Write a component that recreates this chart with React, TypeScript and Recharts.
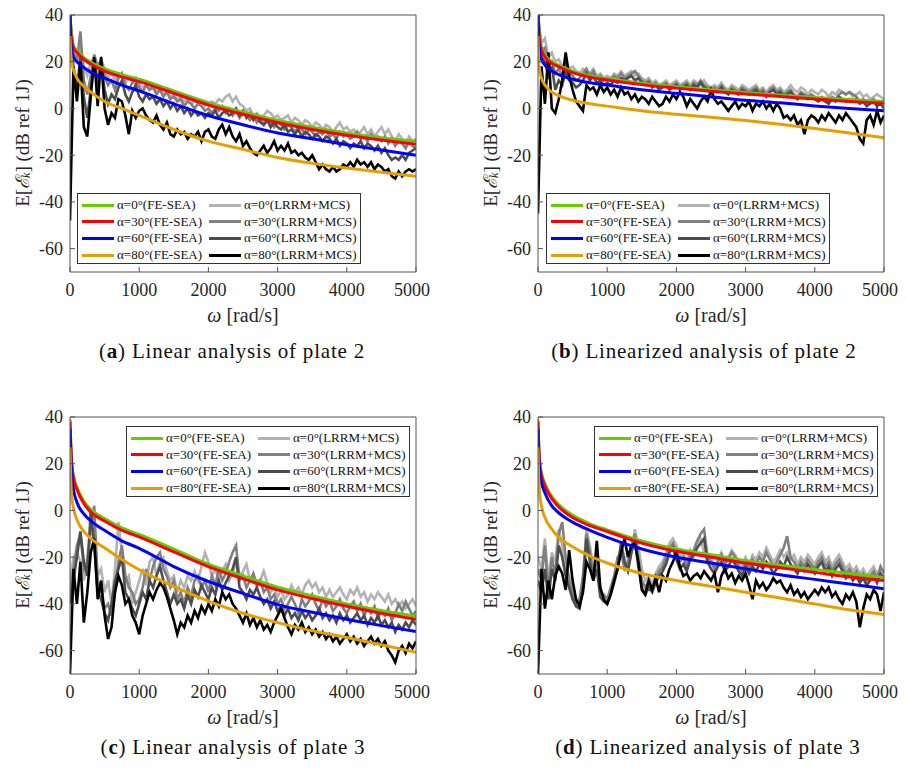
import { Line, LineChart, XAxis, YAxis } from "recharts";

const FONT = "'Liberation Serif', 'Times New Roman', serif";
const TXT = "#262626";
const FRAME = "#555555";

// x grids
const feX = [0, 10, 25, 50, 100, 200, 300, 500, 750, 1000, 1500, 2000, 2500, 3000, 3500, 4000, 4500, 5000];
const mcsX = [
  0, 50, 100, 150, 200, 250, 300, 350, 400, 450, 500,
  550, 600, 650, 700, 750, 800, 850, 900, 950, 1000,
  1050, 1100, 1150, 1200, 1250, 1300, 1350, 1400, 1450, 1500,
  1550, 1600, 1650, 1700, 1750, 1800, 1850, 1900, 1950, 2000,
  2050, 2100, 2150, 2200, 2250, 2300, 2350, 2400, 2450, 2500,
  2550, 2600, 2650, 2700, 2750, 2800, 2850, 2900, 2950, 3000,
  3050, 3100, 3150, 3200, 3250, 3300, 3350, 3400, 3450, 3500,
  3550, 3600, 3650, 3700, 3750, 3800, 3850, 3900, 3950, 4000,
  4050, 4100, 4150, 4200, 4250, 4300, 4350, 4400, 4450, 4500,
  4550, 4600, 4650, 4700, 4750, 4800, 4850, 4900, 4950, 5000,
];
const xTicks = [0, 1000, 2000, 3000, 4000, 5000];
const yTicks = [-60, -40, -20, 0, 20, 40];

// (a) linear, plate 2
const aFe0 = [42, 35, 30, 27, 24.8, 21.8, 19.8, 17, 14.5, 12.5, 7.5, 2.5, -1.5, -5, -8, -10.5, -12.5, -14];
const aFe30 = [42, 33, 29, 26, 24, 21, 19, 16, 13.5, 11.5, 6.5, 1.5, -2.5, -6, -9, -11.5, -13.5, -15.3];
const aFe60 = [42, 30, 25, 22, 20, 17.5, 15.5, 13, 10, 7.5, 2, -3, -7, -10.5, -13, -15.5, -17.8, -20];
const aFe80 = [31, 24, 19.5, 16.5, 13, 9.5, 7, 3, 0, -3, -9, -14, -17.5, -21, -23.5, -25.5, -27.3, -29];
const aMcs0 = [
  38, 26, 21, 27, 18, 14, 20, 22, 16, 21, 17,
  13, 15, 12, 15, 14, 11, 13, 12, 10, 11,
  9, 10, 8, 10, 7, 8, 6, 7, 5, 6,
  4, 5, 3, 4, 2, 3, 2, 3, 1, 2,
  3, 2, 4, 3, 5, 6, 3, 5, 2, 1,
  -1, 0, -3, -2, -4, -3, -1, -2, -4, -3,
  -5, -4, -3, -6, -4, -5, -7, -5, -6, -8,
  -6, -7, -9, -7, -8, -10, -8, -6, -9, -8,
  -10, -9, -11, -10, -8, -11, -9, -12, -10, -8,
  -11, -9, -12, -14, -11, -13, -15, -12, -14, -13,
];
const aMcs30 = [
  40, 24, 20, 33, 12, 6, 14, 23, 18, 21, 14,
  10, 12, 8, 13, 15, 10, 8, 11, 13, 9,
  7, 10, 8, 9, 6, 8, 5, 7, 4, 5,
  3, 4, 1, 3, 2, 0, 2, 1, -1, 0,
  -2, 0, -1, 1, -2, 0, -3, -1, -4, -2,
  -3, -5, -3, -6, -4, -7, -5, -6, -8, -6,
  -7, -9, -7, -8, -10, -8, -9, -11, -9, -10,
  -12, -10, -11, -9, -12, -11, -13, -10, -12, -11,
  -13, -12, -10, -13, -12, -14, -11, -13, -12, -14,
  -12, -15, -13, -16, -14, -15, -17, -14, -16, -17,
];
const aMcs60 = [
  30, 18, 8, 22, 5, -4, 8, 20, 10, 20, 8,
  2, 6, 4, 9, 12, 6, 3, 7, 10, 5,
  3, 6, 4, 5, 2, 4, 1, 3, 0, 2,
  -1, 1, -2, 0, -3, -1, -3, -2, -4, -2,
  -3, -1, -4, -2, -1, -3, -2, 0, -3, -1,
  -4, -2, -5, -3, -6, -7, -5, -8, -6, -8,
  -9, -7, -10, -9, -11, -9, -12, -10, -11, -13,
  -11, -12, -14, -12, -13, -15, -13, -16, -14, -15,
  -17, -15, -16, -14, -17, -15, -16, -18, -16, -19,
  -17, -20, -22, -21, -22, -20, -22, -19, -18, -17,
];
const aMcs80 = [
  -48, 18, 3, 20, -8, -12, 5, 22, 1, 22, 0,
  -7, -2, -4, 4, 3, -3, -11, -1, -4, -1,
  0, -3, -5, -6, -3, -7, -9, -6, -11, -12,
  -9, -11, -10, -13, -11, -12, -10, -14, -10, -9,
  -12, -13, -9, -7, -11, -8, -12, -14, -11, -16,
  -14, -17, -19, -20, -18, -16, -19, -17, -14, -18,
  -16, -18, -15, -19, -18, -20, -19, -21, -22, -20,
  -23, -26, -24, -26, -27, -25, -27, -26, -24, -25,
  -23, -25, -22, -24, -23, -25, -23, -26, -24, -25,
  -27, -26, -29, -30, -27, -29, -27, -26, -27, -26,
];

// (b) linearized, plate 2
const bFe0 = [42, 35, 30, 26, 23, 20, 18.5, 16, 14, 12.8, 10.8, 9.3, 8, 6.8, 5.7, 4.7, 3.8, 3];
const bFe30 = [42, 33, 28, 25, 22, 19.3, 17.8, 15.3, 13.4, 12.2, 10.2, 8.7, 7.4, 6.2, 5.1, 4, 3, 2.2];
const bFe60 = [42, 30, 24, 21, 18.5, 16, 14.5, 12.5, 11, 10, 8, 6.5, 5, 3.5, 2.4, 1.1, 0, -1];
const bFe80 = [31, 21, 16, 13, 10, 7, 5.5, 3.5, 2, 1, -1, -2.5, -3.8, -5.2, -6.8, -8.6, -10.5, -12.5];
const bMcs0 = [
  40, 28, 30, 22, 24, 20, 21, 18, 20, 17, 18,
  16, 15, 17, 16, 15, 17, 14, 15, 13, 14,
  13, 15, 14, 16, 14, 15, 16, 14, 15, 13,
  12, 13, 11, 12, 10, 11, 12, 10, 11, 12,
  10, 11, 12, 10, 12, 11, 10, 12, 10, 9,
  10, 9, 11, 9, 8, 10, 9, 8, 10, 9,
  8, 9, 10, 8, 9, 7, 9, 10, 8, 9,
  7, 8, 10, 8, 7, 9, 8, 6, 8, 7,
  6, 8, 7, 5, 7, 6, 8, 7, 6, 7,
  5, 6, 7, 5, 6, 4, 5, 6, 5, 4,
];
const bMcs30 = [
  40, 25, 26, 18, 20, 15, 17, 14, 19, 15, 14,
  12, 13, 15, 17, 14, 16, 13, 14, 12, 13,
  12, 14, 13, 15, 13, 14, 15, 16, 14, 12,
  11, 12, 10, 11, 9, 10, 11, 9, 10, 11,
  9, 10, 11, 9, 11, 10, 12, 10, 9, 8,
  9, 8, 10, 8, 7, 9, 8, 7, 9, 8,
  7, 8, 9, 7, 8, 6, 8, 9, 7, 8,
  6, 7, 8, 6, 5, 7, 6, 5, 6, 5,
  4, 5, 4, 3, 5, 4, 6, 7, 6, 7,
  6, 5, 3, 4, 2, 3, 4, 2, 3, 2,
];
const bMcs60 = [
  38, 22, 20, 14, 18, 8, 12, 10, 16, 12, 11,
  9, 10, 12, 15, 12, 14, 11, 12, 10, 11,
  10, 12, 11, 13, 12, 13, 14, 12, 13, 11,
  10, 11, 9, 10, 8, 9, 10, 8, 9, 10,
  8, 9, 10, 8, 10, 9, 11, 9, 8, 7,
  8, 7, 9, 7, 6, 8, 7, 6, 8, 7,
  6, 7, 8, 6, 7, 5, 7, 8, 6, 7,
  5, 6, 7, 5, 4, 6, 5, 4, 5, 4,
  3, 4, 3, 2, 4, 3, 5, 4, 3, 4,
  3, 4, 2, 3, 1, 2, 3, 1, 2, 0,
];
const bMcs80 = [
  -45, 18, 2, 24, 0, -2, 4, 12, 24, 14, 8,
  3, 1, -1, 10, 8, 9, 6, 10, 7, 9,
  6, 8, 5, 9, 6, 7, 4, 6, 3, 5,
  4, 2, 5, 3, 1, 2, 5, 3, 6, 4,
  7, 5, 1, 4, 2, 0, 3, 5, 3, 8,
  4, 2, 3, 1, -1, 1, 3, 0, 2, 1,
  3, -1, 2, 1, 3, 0, 2, -1, 2, 0,
  -4, -3, -5, -3, -7, -5, -11, -5, -3, -4,
  -6, -3, -5, -2, -4, -6, -3, -5, -2, -4,
  -6, -8, -13, -15, -5, -3, -7, -1, -6, -3,
];

// (c) linear, plate 3
const cFe0 = [39, 30, 21, 15, 10, 4, 0.5, -3.5, -7.5, -10.3, -16.5, -23, -28, -32.8, -36.5, -40, -42.8, -45.3];
const cFe30 = [38, 29, 20, 14, 9, 3, -0.7, -4.5, -8.5, -11.3, -17.7, -24, -29.2, -34, -37.7, -41, -44, -46.6];
const cFe60 = [35, 25, 15, 9, 3.5, -1.5, -4.5, -8.5, -13, -16.2, -24, -30.4, -35.5, -40.3, -43.6, -46.6, -49.3, -51.8];
const cFe80 = [27, 14, 6, 1, -4, -9, -12, -16, -21, -25.4, -32.5, -38.8, -44, -48, -51.5, -54.4, -57.5, -60.7];
const cMcs0 = [
  -30, -20, -18, -22, -30, -20, -5, -10, -28, -25, -35,
  -30, -40, -25, -5, -18, -30, -28, -40, -35, -30,
  -25, -32, -22, -20, -28, -22, -20, -26, -30, -28,
  -35, -30, -33, -28, -30, -26, -30, -24, -18, -22,
  -28, -25, -30, -26, -23, -30, -27, -22, -28, -26,
  -23, -30, -28, -33, -30, -26, -31, -35, -33, -37,
  -34, -38, -36, -32, -35, -33, -36, -32, -30, -33,
  -31, -35, -33, -37, -34, -37, -35, -33, -36, -38,
  -34, -36, -33, -37, -35, -39, -36, -38, -35, -37,
  -39, -36, -40, -38, -41, -39, -42, -40, -38, -41,
];
const cMcs30 = [
  -35, -25, -15, -10, -25, -22, -8, 2, -30, -35, -42,
  -40, -45, -35, -22, -15, -28, -33, -35, -40, -38,
  -33, -25, -30, -24, -20, -18, -25, -28, -33, -30,
  -38, -35, -40, -33, -37, -30, -28, -33, -30, -35,
  -28, -32, -25, -30, -27, -22, -18, -15, -30, -28,
  -33, -30, -27, -32, -30, -35, -33, -38, -36, -40,
  -38, -42, -40, -37, -40, -44, -38, -41, -39, -36,
  -40, -43, -38, -41, -39, -43, -41, -38, -42, -44,
  -41, -39, -43, -40, -45, -42, -44, -41, -46, -43,
  -45, -42, -47, -44, -40, -43, -39, -42, -45, -43,
];
const cMcs60 = [
  -40, -30, -20, -9, -22, -28, 0, -15, -35, -38, -44,
  -47, -40, -30, -25, -20, -35, -38, -42, -45, -40,
  -35, -38, -30, -33, -28, -24, -30, -35, -40, -36,
  -40, -38, -42, -36, -40, -34, -37, -32, -35, -38,
  -33, -36, -30, -34, -31, -28, -25, -20, -33, -35,
  -38, -34, -36, -33, -37, -40, -38, -42, -39, -43,
  -41, -45, -42, -46, -44, -47, -43, -46, -44, -47,
  -45, -42, -46, -44, -47, -45, -48, -44, -47, -45,
  -48, -46, -44, -47, -45, -49, -46, -48, -45, -49,
  -47, -50, -48, -52, -49, -51, -48, -50, -47, -49,
];
const cMcs80 = [
  -70, -25, -40, -22, -48, -35, -18, -12, -38, -30, -45,
  -55, -50, -35, -28, -32, -40, -38, -45, -48, -53,
  -45, -40, -35, -38, -34, -31, -33, -37, -42, -47,
  -53, -48, -50, -45, -48, -43, -46, -41, -44, -40,
  -43, -38, -41, -35, -38, -36, -40, -42, -45, -48,
  -44, -49, -46, -50, -47, -51, -49, -52, -48, -45,
  -42, -46, -50, -53, -49, -51, -48, -52, -50, -53,
  -51, -54, -52, -55, -53, -56, -54, -57, -55, -53,
  -56, -54, -57, -55, -58, -56, -54, -57, -55, -58,
  -56, -60, -62, -65, -60, -58, -61, -57, -59, -56,
];

// (d) linearized, plate 3
const dFe0 = [39, 29, 21, 16, 11.5, 6, 2.5, -2, -5.7, -8.3, -13, -16.5, -19, -21.5, -23.5, -25.3, -27, -28.7];
const dFe30 = [38, 28, 20, 15, 10.5, 5, 1.5, -3, -6.5, -9, -14, -17.5, -20, -22.5, -24.5, -26.5, -28.5, -30];
const dFe60 = [35, 24, 17, 12, 7.5, 2, -1, -5, -8.5, -11.5, -16.5, -20, -22.5, -25, -27.5, -29.5, -31.5, -33.5];
const dFe80 = [27, 14, 7, 2, -3, -8, -11.5, -15.5, -19.5, -22.5, -27, -30, -32.5, -35, -37.5, -40, -42.5, -44.5];
const dMcs0 = [
  -20, -25, -12, -30, -18, -22, -8, -15, -25, -28, -35,
  -38, -40, -30, -8, -15, -25, -22, -33, -38, -40,
  -35, -30, -22, -15, -20, -25, -18, -8, -15, -25,
  -30, -28, -32, -27, -24, -22, -18, -14, -12, -15,
  -20, -18, -22, -17, -20, -15, -12, -18, -22, -20,
  -24, -21, -18, -22, -20, -17, -19, -22, -24, -20,
  -23, -19, -21, -18, -20, -16, -19, -22, -20, -17,
  -20, -18, -21, -19, -23, -20, -22, -19, -21, -23,
  -20, -18, -22, -20, -24, -21, -19, -22, -25, -23,
  -26, -24, -27, -25, -28, -26, -24, -27, -25, -26,
];
const dMcs30 = [
  -25, -30, -15, -35, -20, -28, -10, -5, -20, -30, -36,
  -40, -38, -28, -10, -18, -28, -20, -35, -36, -38,
  -33, -28, -20, -18, -25, -22, -15, -10, -20, -30,
  -33, -30, -34, -29, -26, -24, -20, -16, -14, -18,
  -22, -20, -24, -19, -17, -13, -10, -8, -20, -22,
  -25, -22, -19, -23, -21, -18, -20, -24, -26, -22,
  -25, -21, -23, -20, -22, -18, -21, -24, -22, -19,
  -16, -11, -20, -22, -25, -22, -24, -21, -23, -25,
  -22, -20, -24, -22, -26, -23, -21, -24, -27, -25,
  -28, -26, -29, -27, -30, -28, -26, -29, -24, -27,
];
const dMcs60 = [
  -30, -35, -25, -38, -25, -30, -15, -20, -28, -33, -38,
  -41, -42, -33, -12, -22, -30, -25, -37, -39, -40,
  -36, -31, -25, -14, -22, -26, -18, -13, -24, -33,
  -36, -33, -35, -31, -28, -26, -23, -18, -16, -21,
  -25, -23, -26, -21, -19, -16, -14, -12, -22, -25,
  -27, -24, -22, -26, -24, -21, -23, -26, -28, -24,
  -27, -24, -26, -23, -25, -22, -24, -27, -25, -22,
  -24, -20, -23, -25, -27, -24, -26, -23, -25, -27,
  -24, -22, -26, -24, -28, -25, -23, -26, -29, -27,
  -30, -28, -31, -29, -32, -30, -28, -31, -27, -29,
];
const dMcs80 = [
  -70, -25, -42, -30, -38, -28, -24, -27, -34, -17, -30,
  -38, -41, -35, -22, -25, -30, -13, -33, -38, -40,
  -36, -30, -25, -18, -12, -20, -15, -14, -22, -34,
  -36, -30, -34, -29, -35, -28, -30, -25, -22, -18,
  -24, -28, -27, -30, -28, -27, -29, -26, -28, -30,
  -27, -35, -28, -25, -29, -27, -31, -28, -30, -27,
  -32, -38, -30, -33, -31, -34, -32, -29, -31, -30,
  -33, -35, -32, -36, -34, -37, -35, -38, -36, -34,
  -36, -33, -35, -33, -37, -35, -38, -40, -36, -38,
  -35, -39, -50, -42, -36, -38, -34, -36, -43, -35,
];

const feLabels = ["α=0°(FE-SEA)", "α=30°(FE-SEA)", "α=60°(FE-SEA)", "α=80°(FE-SEA)"];
const mcsLabels = ["α=0°(LRRM+MCS)", "α=30°(LRRM+MCS)", "α=60°(LRRM+MCS)", "α=80°(LRRM+MCS)"];
const feColors = ["#66CC00", "#FF0000", "#0000FF", "#E69F00"];
const mcsColors = ["#B3B3B3", "#808080", "#4D4D4D", "#000000"];
const feKeys = ["f0", "f30", "f60", "f80"];
const mcsKeys = ["m0", "m30", "m60", "m80"];

function buildRows(xs: number[], keys: string[], cols: number[][]) {
  return xs.map((x, i) => {
    const row: Record<string, number> = { x };
    keys.forEach((k, j) => (row[k] = cols[j][i]));
    return row;
  });
}

const yLabel = () => (
  <text
    x={22}
    y={143}
    transform="rotate(-90 22 143)"
    textAnchor="middle"
    dominantBaseline="central"
    fontFamily={FONT}
    fontSize={19}
    fill={TXT}
  >
    E[<tspan fontStyle="italic">ℰ</tspan>
    <tspan fontSize={12} dy={4} fontStyle="italic">k</tspan>
    <tspan dy={-4}>] (dB ref 1J)</tspan>
  </text>
);

const xLabel = () => (
  <text x={243} y={322} textAnchor="middle" fontFamily={FONT} fontSize={20} fill={TXT}>
    <tspan fontStyle="italic">ω</tspan> [rad/s]
  </text>
);

function LegendBox({ left, top }: { left: number; top: number }) {
  const rows = [0, 1, 2, 3];
  const item = (color: string, label: string, x: number, r: number) => (
    <div
      key={label}
      style={{
        position: "absolute",
        left: x,
        top: 3 + r * 16.7,
        height: 16,
        display: "flex",
        alignItems: "center",
        whiteSpace: "nowrap",
      }}
    >
      <span style={{ display: "inline-block", width: 32, height: 3, background: color, marginRight: 3 }} />
      <span style={{ fontFamily: FONT, fontSize: 13, color: "#111" }}>{label}</span>
    </div>
  );
  return (
    <div
      style={{
        position: "absolute",
        left,
        top,
        width: 284,
        height: 71,
        border: "1px solid #333",
        background: "#fff",
        boxSizing: "border-box",
      }}
    >
      {rows.map((r) => item(feColors[r], feLabels[r], 4, r))}
      {rows.map((r) => item(mcsColors[r], mcsLabels[r], 131, r))}
    </div>
  );
}

type PanelProps = {
  left: number;
  top: number;
  fe: number[][];
  mcs: number[][];
  legendLeft: number;
  legendTop: number;
  tag: string;
  caption: string;
  captionX: number;
  captionY: number;
};

function Panel({ left, top, fe, mcs, legendLeft, legendTop, tag, caption, captionX, captionY }: PanelProps) {
  const feData = buildRows(feX, feKeys, fe);
  const mcsData = buildRows(mcsX, mcsKeys, mcs);
  const tickStyle = { fill: TXT, fontSize: 18, fontFamily: FONT };
  return (
    <div style={{ position: "absolute", left, top, width: 430, height: 370 }}>
      <LineChart width={430} height={330} margin={{ top: 14, right: 13, bottom: 28, left: 0 }}>
        <XAxis
          xAxisId="b"
          type="number"
          dataKey="x"
          domain={[0, 5000]}
          ticks={xTicks}
          allowDataOverflow
          height={30}
          tickSize={-5}
          tickMargin={16}
          stroke={FRAME}
          tick={tickStyle}
          label={xLabel}
        />
        <XAxis
          xAxisId="t"
          orientation="top"
          type="number"
          dataKey="x"
          domain={[0, 5000]}
          ticks={xTicks}
          allowDataOverflow
          height={1}
          tickSize={-5}
          tick={false}
          stroke={FRAME}
        />
        <YAxis
          yAxisId="l"
          type="number"
          domain={[-70, 40]}
          ticks={yTicks}
          allowDataOverflow
          width={70}
          tickSize={-5}
          tickMargin={12}
          stroke={FRAME}
          tick={tickStyle}
          label={yLabel}
        />
        <YAxis
          yAxisId="r"
          orientation="right"
          type="number"
          domain={[-70, 40]}
          ticks={yTicks}
          allowDataOverflow
          width={1}
          tickSize={-5}
          tick={false}
          stroke={FRAME}
        />
        {mcsKeys.map((k, i) => (
          <Line
            key={k}
            xAxisId="b"
            yAxisId="l"
            data={mcsData}
            dataKey={k}
            type="linear"
            stroke={mcsColors[i]}
            strokeWidth={2.6}
            dot={false}
            isAnimationActive={false}
          />
        ))}
        {feKeys.map((k, i) => (
          <Line
            key={k}
            xAxisId="b"
            yAxisId="l"
            data={feData}
            dataKey={k}
            type="monotone"
            stroke={feColors[i]}
            strokeWidth={3}
            dot={false}
            isAnimationActive={false}
          />
        ))}
      </LineChart>
      <LegendBox left={legendLeft} top={legendTop} />
      <div
        style={{
          position: "absolute",
          left: captionX - 200,
          width: 400,
          top: captionY - 13,
          textAlign: "center",
          fontFamily: FONT,
          fontSize: 21,
          letterSpacing: 0.8,
          color: "#111",
          whiteSpace: "nowrap",
        }}
      >
        (<b>{tag}</b>) {caption}
      </div>
    </div>
  );
}

export default function App() {
  return (
    <div style={{ position: "absolute", left: 0, top: 0, width: 906, height: 769, background: "#fff" }}>
      <Panel
        left={0}
        top={0}
        fe={[aFe0, aFe30, aFe60, aFe80]}
        mcs={[aMcs0, aMcs30, aMcs60, aMcs80]}
        legendLeft={77}
        legendTop={193}
        tag="a"
        caption="Linear analysis of plate 2"
        captionX={232}
        captionY={352}
      />
      <Panel
        left={468}
        top={0}
        fe={[bFe0, bFe30, bFe60, bFe80]}
        mcs={[bMcs0, bMcs30, bMcs60, bMcs80]}
        legendLeft={78}
        legendTop={193}
        tag="b"
        caption="Linearized analysis of plate 2"
        captionX={236}
        captionY={352}
      />
      <Panel
        left={0}
        top={402}
        fe={[cFe0, cFe30, cFe60, cFe80]}
        mcs={[cMcs0, cMcs30, cMcs60, cMcs80]}
        legendLeft={126}
        legendTop={24}
        tag="c"
        caption="Linear analysis of plate 3"
        captionX={233}
        captionY={346}
      />
      <Panel
        left={468}
        top={402}
        fe={[dFe0, dFe30, dFe60, dFe80]}
        mcs={[dMcs0, dMcs30, dMcs60, dMcs80]}
        legendLeft={126}
        legendTop={24}
        tag="d"
        caption="Linearized analysis of plate 3"
        captionX={240}
        captionY={346}
      />
    </div>
  );
}
